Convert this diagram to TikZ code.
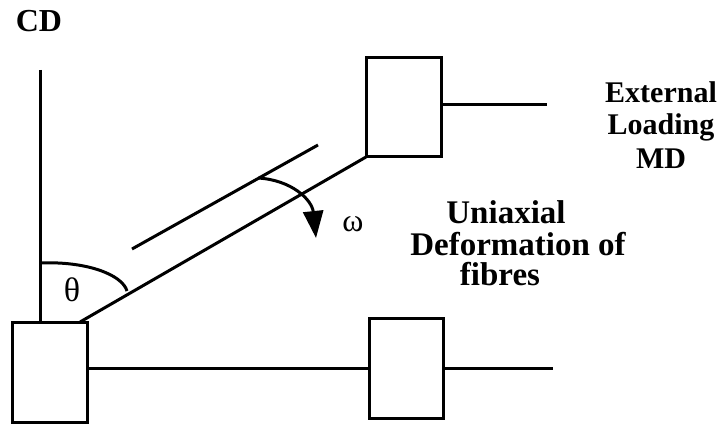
\documentclass[tikz,border=0pt]{standalone}
\usepackage{fontspec}
\setmainfont{Liberation Serif}
\usetikzlibrary{arrows.meta}
\tikzset{
  ln/.style={line width=3pt},
  boxnode/.style={draw, line width=3pt, minimum width=75pt, minimum height=100pt, inner sep=0pt, outer sep=0pt},
  lbl/.style={font=\fontsize{30}{32}\selectfont\bfseries, inner sep=0pt, anchor=base},
  greek/.style={font=\fontsize{34}{36}\selectfont, inner sep=0pt}
}
\begin{document}
\begin{tikzpicture}[x=1pt,y=-1pt]
\path[use as bounding box] (0,0) rectangle (726,425);
% boxes
\node[boxnode] (bl) at (49.5,372) {};
\node[boxnode, minimum width=74pt] (br) at (406,368) {};
\node[boxnode, minimum height=99pt] (up) at (403.5,107.5) {};
% coordinates
\coordinate (cdtop) at (40,70);
\coordinate (d0) at (80,322);
\coordinate (ue) at (547,105);
\coordinate (be) at (553,368);
\coordinate (p1) at (132,249);
\coordinate (p2) at (318,145);
\coordinate (w0) at (258,178);
\coordinate (wt) at (316,238);
\coordinate (t0) at (40,263);
\coordinate (t1) at (127,291);
% lines
\draw[ln] (cdtop) -- (bl.north -| cdtop);
\draw[ln] (d0) -- (up.south west);
\draw[ln] (up.east |- ue) -- (ue);
\draw[ln] (br.west -| bl.east) -- (br.west);
\draw[ln] (br.east) -- (be);
\draw[ln] (p1) -- (p2);
% angle arcs
\draw[ln] (t0) .. controls (85,261) and (122,274) .. (t1);
\draw[ln, -{Triangle[length=27pt,width=20pt]}] (w0) .. controls (292,180) and (312,200) .. (wt);
% labels
\node[lbl, font=\fontsize{32}{34}\selectfont\bfseries] (cd) at (39,32) {CD};
\node[lbl] (ext1) at (661,103) {External};
\node[lbl] (ext2) at (661,135) {Loading};
\node[lbl] (ext3) at (661,168) {MD};
\node[lbl, font=\fontsize{33}{35}\selectfont\bfseries] (uni1) at (506,223) {Uniaxial};
\node[lbl, font=\fontsize{33}{35}\selectfont\bfseries] (uni2) at (518,255) {Deformation of};
\node[lbl, font=\fontsize{33}{35}\selectfont\bfseries] (uni3) at (500,285) {fibres};
\node[greek] (theta) at (72,290) {θ};
\node[greek, font=\fontsize{32}{34}\selectfont] (omega) at (353,224) {ω};
\end{tikzpicture}
\end{document}
